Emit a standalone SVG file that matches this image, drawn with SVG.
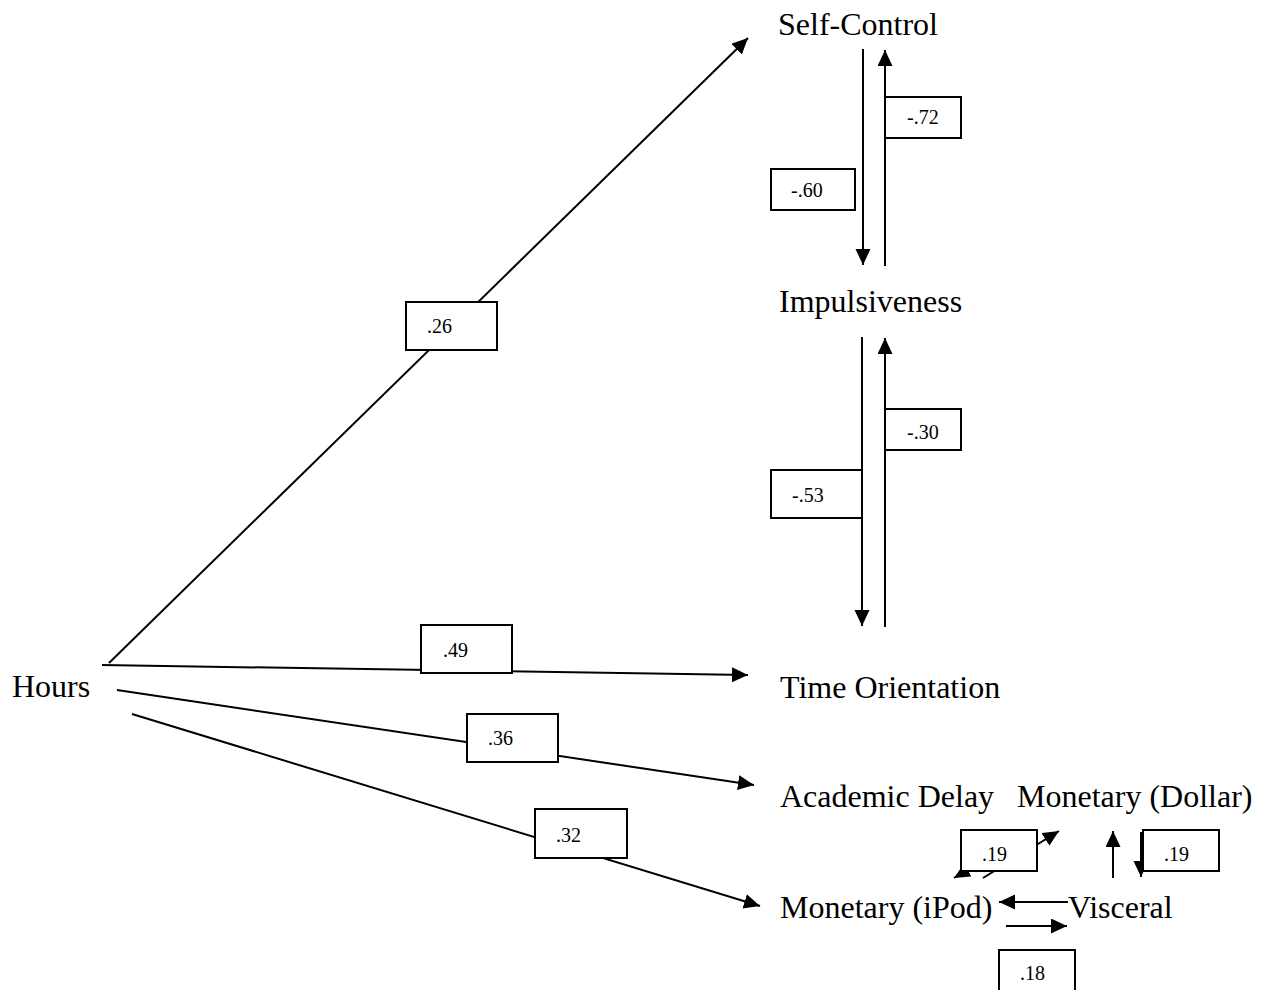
<svg xmlns="http://www.w3.org/2000/svg" width="1264" height="990" viewBox="0 0 1264 990">
<style>
.lbl{font-family:"Liberation Serif","Times New Roman",serif;font-size:32px;fill:#000}
.num{font-family:"Liberation Serif","Times New Roman",serif;font-size:20px;fill:#000}
.ln{stroke:#000;stroke-width:2;fill:none}
.arr{stroke:#000;stroke-width:2;fill:none;marker-end:url(#ah)}
.box{fill:#fff;stroke:#000;stroke-width:2}
</style>
<defs>
<marker id="ah" markerUnits="userSpaceOnUse" markerWidth="18" markerHeight="16" refX="16" refY="7.5" orient="auto">
<path d="M0,0 L16,7.5 L0,15 z" fill="#000"/>
</marker>
</defs>
<rect width="1264" height="990" fill="#fff"/>
<g id="connectors">
<line class="arr" x1="109" y1="663" x2="748" y2="38"/>
<line class="arr" x1="102" y1="665" x2="748" y2="675"/>
<line class="arr" x1="117" y1="690" x2="754" y2="785"/>
<line class="arr" x1="132" y1="714" x2="760" y2="906"/>
<line class="arr" x1="863" y1="49" x2="863" y2="265"/>
<line class="arr" x1="885" y1="266" x2="885" y2="50"/>
<line class="arr" x1="862" y1="337" x2="862" y2="626"/>
<line class="arr" x1="885" y1="627" x2="885" y2="338"/>
<line class="arr" x1="983" y1="878" x2="1059" y2="831"/>
<line class="arr" x1="1010" y1="845" x2="954" y2="878"/>
<line class="arr" x1="1113" y1="878" x2="1113" y2="831"/>
<line class="arr" x1="1141" y1="832" x2="1141" y2="877"/>
<line class="arr" x1="1068" y1="902" x2="999" y2="902"/>
<line class="arr" x1="1006" y1="926" x2="1067" y2="926"/>
</g>
<g id="label-26"><rect class="box" x="406" y="302" width="91" height="48"/><text class="num" x="427" y="333">.26</text></g>
<g id="label-49"><rect class="box" x="421" y="625" width="91" height="48"/><text class="num" x="443" y="657">.49</text></g>
<g id="label-36"><rect class="box" x="467" y="714" width="91" height="48"/><text class="num" x="488" y="745">.36</text></g>
<g id="label-32"><rect class="box" x="535" y="809" width="92" height="49"/><text class="num" x="556" y="842">.32</text></g>
<g id="label-72"><rect class="box" x="885" y="97" width="76" height="41"/><text class="num" x="907" y="124">-.72</text></g>
<g id="label-60"><rect class="box" x="771" y="169" width="84" height="41"/><text class="num" x="791" y="197">-.60</text></g>
<g id="label-30"><rect class="box" x="885" y="409" width="76" height="41"/><text class="num" x="907" y="439">-.30</text></g>
<g id="label-53"><rect class="box" x="771" y="470" width="91" height="48"/><text class="num" x="792" y="502">-.53</text></g>
<g id="label-19a"><rect class="box" x="961" y="830" width="76" height="41"/><text class="num" x="982" y="861">.19</text></g>
<g id="label-19b"><rect class="box" x="1143" y="830" width="76" height="41"/><text class="num" x="1164" y="861">.19</text></g>
<g id="label-18"><rect class="box" x="999" y="950" width="76" height="50"/><text class="num" x="1020" y="980">.18</text></g>
<g id="node-hours"><text class="lbl" x="12" y="697">Hours</text></g>
<g id="node-selfcontrol"><text class="lbl" x="778" y="35">Self-Control</text></g>
<g id="node-impulsiveness"><text class="lbl" x="779" y="312">Impulsiveness</text></g>
<g id="node-timeorientation"><text class="lbl" x="780" y="698">Time Orientation</text></g>
<g id="node-academicdelay"><text class="lbl" x="780" y="807">Academic Delay</text></g>
<g id="node-monetarydollar"><text class="lbl" x="1017" y="807">Monetary (Dollar)</text></g>
<g id="node-monetaryipod"><text class="lbl" x="780" y="918">Monetary (iPod)</text></g>
<g id="node-visceral"><text class="lbl" x="1068" y="918">Visceral</text></g>
</svg>
